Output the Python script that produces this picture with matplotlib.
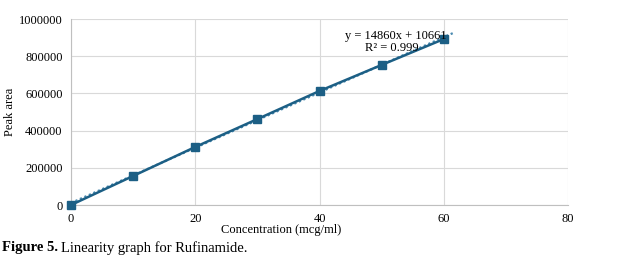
import matplotlib
matplotlib.use("Agg")
import matplotlib.pyplot as plt
import numpy as np

conc = [0, 10, 20, 30, 40, 50, 60]
peak_area = [0, 156000, 312000, 462000, 613000, 753000, 892000]
slope = 14860
intercept = 10661
trend_x = [0, 61.5]
xticks = [0, 20, 40, 60, 80]
yticks = [0, 200000, 400000, 600000, 800000, 1000000]

plt.rcParams['font.family'] = ['Liberation Serif', 'DejaVu Serif']
color = '#1c5f85'

fig = plt.figure(figsize=(6.2, 2.6), dpi=100)
ax = fig.add_axes([71/620, 1-205/260, (568-71)/620, (205-19)/260])

tx = np.array(trend_x)
ax.plot(tx, slope*tx + intercept, linestyle=(0, (1, 1.2)), color='#4a8ab0', lw=1.6, zorder=2)
ax.plot(conc, peak_area, color=color, lw=1.8, marker='s', markersize=5.5, zorder=3, clip_on=False)

ax.set_xlim(0, 80)
ax.set_ylim(0, 1000000)
ax.set_xticks(xticks)
ax.set_yticks(yticks)
ax.set_xticklabels([str(v) for v in xticks])
ax.set_yticklabels([str(v) for v in yticks])
ax.grid(True, color='#d9d9d9', lw=0.8)
ax.set_axisbelow(True)
for s in ['top', 'right']:
    ax.spines[s].set_visible(False)
for s in ['left', 'bottom']:
    ax.spines[s].set_color('#bfbfbf')
ax.tick_params(length=0, labelsize=9, pad=6)

fig.text(10/620, 1-112/260, 'Peak area', rotation=90, ha='center', va='center', fontsize=9)
fig.text(281/620, 1-230/260, 'Concentration (mcg/ml)', ha='center', va='center', fontsize=9)
fig.text(396/620, 1-36/260, 'y = 14860x + 10661', ha='center', va='center', fontsize=9)
fig.text(392/620, 1-48/260, 'R² = 0.999', ha='center', va='center', fontsize=9)

fig.text(2/620, 1-248/260, 'Figure 5.', ha='left', va='center', fontsize=10.5, fontweight='bold')
fig.text(61/620, 1-248/260, 'Linearity graph for Rufinamide.', ha='left', va='center', fontsize=10.5)

fig.savefig('out.png', dpi=100)
